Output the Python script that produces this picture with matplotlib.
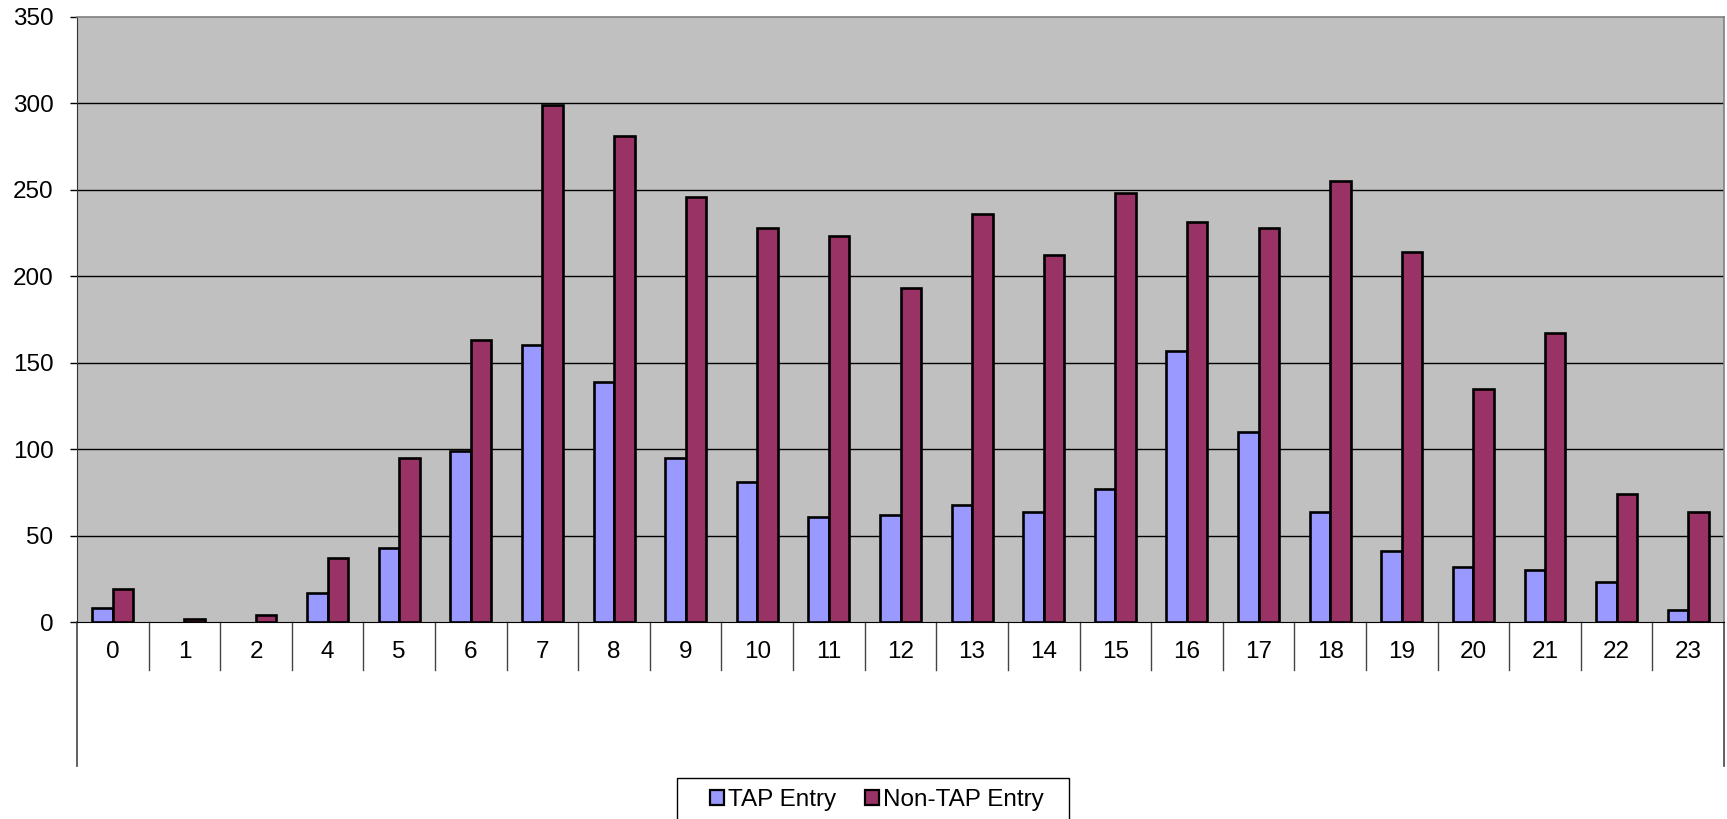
import matplotlib
matplotlib.use("Agg")
import matplotlib.pyplot as plt
from matplotlib.patches import Rectangle
import numpy as np

plt.rcParams['font.family'] = ['Liberation Sans', 'DejaVu Sans']

# Entries per hour of day (hour 3 has no records)
hours = ['0', '1', '2', '4', '5', '6', '7', '8', '9', '10', '11', '12',
         '13', '14', '15', '16', '17', '18', '19', '20', '21', '22', '23']
tap_entry = [8, 0, 0, 17, 43, 99, 160, 139, 95, 81, 61, 62,
             68, 64, 77, 157, 110, 64, 41, 32, 30, 23, 7]
non_tap_entry = [19, 2, 4, 37, 95, 163, 299, 281, 246, 228, 223, 193,
                 236, 212, 248, 231, 228, 255, 214, 135, 167, 74, 64]

W, H = 1727, 819
FS = 17.5
fig = plt.figure(figsize=(W / 100, H / 100), dpi=100)

# plot area in pixels
left, right, top, base = 77, 1724, 16.5, 622.3
ax = fig.add_axes([left / W, 1 - base / H, (right - left) / W, (base - top) / H])
ax.set_facecolor('#C0C0C0')

x = np.arange(len(hours))
bw = 1 / 3.5
tap_bars = ax.bar(x - bw / 2, tap_entry, bw, color='#9999FF',
                  edgecolor='black', linewidth=1.9, zorder=3,
                  label='TAP Entry')
ax.bar(x + bw / 2, non_tap_entry, bw, color='#993366', edgecolor='black',
       linewidth=1.9, zorder=3, label='Non-TAP Entry')
# empty hours get no outline
for bar, v in zip(tap_bars, tap_entry):
    if v == 0:
        bar.set_visible(False)

ax.set_xlim(-0.5, len(hours) - 0.5)
ax.set_ylim(0, 350)
ax.set_yticks(range(0, 351, 50))
ax.tick_params(axis='y', direction='out', length=5, width=1, labelsize=FS,
               pad=12)
ax.set_xticks([])
for y in range(50, 350, 50):
    ax.axhline(y, color='black', linewidth=1, zorder=1)

for side in ['top', 'right']:
    ax.spines[side].set_color('#808080')
    ax.spines[side].set_linewidth(1.2)
ax.spines['left'].set_color('#333333')
ax.spines['bottom'].set_color('black')

# category table below the axis
trans = ax.get_xaxis_transform()
plot_h = base - top
cell_h = (669.7 - base) / plot_h
for b in np.arange(0.5, len(hours) - 1, 1.0):
    ax.plot([b, b], [0, -cell_h], color='#444444', linewidth=1,
            transform=trans, clip_on=False)
for i, h in enumerate(hours):
    ax.text(i, -(652 - base) / plot_h, h, transform=trans, ha='center',
            va='center', fontsize=FS)

drop = (765.5 - base) / plot_h
ax.plot([0, 0], [0, -drop], color='#444444', linewidth=1.2,
        transform=ax.transAxes, clip_on=False)
ax.plot([1, 1], [0, -drop], color='#444444', linewidth=1.2,
        transform=ax.transAxes, clip_on=False)

# legend box, running off the bottom edge
fig.patches.append(Rectangle((677 / W, -0.05), (1069 - 677) / W,
                             0.05 + (H - 778) / H, transform=fig.transFigure,
                             facecolor='white', edgecolor='black',
                             linewidth=1))
leg = fig.legend(loc='center', bbox_to_anchor=(877 / W, 1 - 800 / H),
                 ncol=2, fontsize=FS, frameon=False, handlelength=0.58,
                 handleheight=0.58, handletextpad=0.15, columnspacing=1.2,
                 borderpad=0)
for p in leg.get_patches():
    p.set_linewidth(1.6)

fig.savefig('out.png', dpi=100)
